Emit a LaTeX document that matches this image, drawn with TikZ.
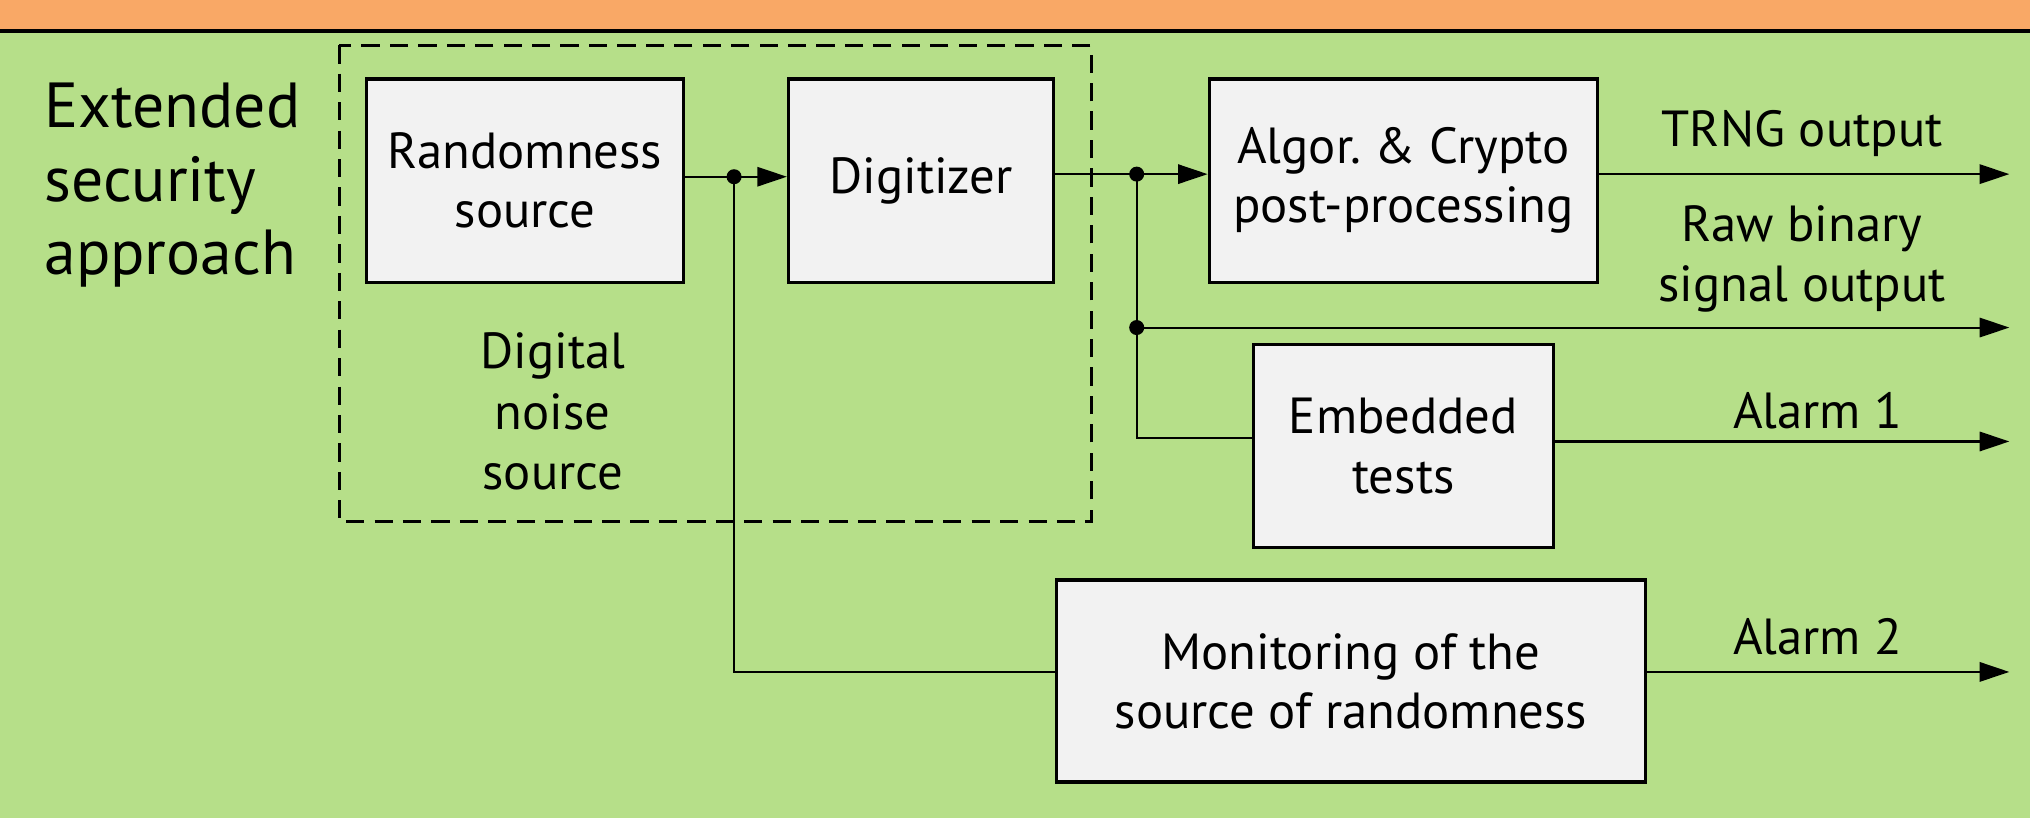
\documentclass[tikz,border=0pt]{standalone}
\usepackage{fontspec}
\setmainfont{PT Sans}
\usetikzlibrary{arrows.meta}
\definecolor{bg}{HTML}{B6DF89}
\definecolor{band}{HTML}{F9A866}
\definecolor{boxfill}{HTML}{F2F2F2}
\frenchspacing
\begin{document}
\begin{tikzpicture}[x=0.02cm,y=-0.02cm,
  blk/.style={draw,line width=1.4pt,fill=boxfill,align=center,inner sep=0pt,font=\fontsize{22.3}{26}\selectfont},
  lbl/.style={align=center,inner sep=0pt,font=\fontsize{22.3}{26}\selectfont},
  wire/.style={line width=0.9pt},
  arr/.style={wire,-{Triangle[length=13pt,width=8.5pt]}},
  dot/.style={circle,fill,inner sep=0pt,minimum size=6.6pt},
  frame/.style={line width=1.25pt,dash pattern=on 8pt off 4.5pt}]
\useasboundingbox (0,0) rectangle (1568,632);
\fill[bg] (0,0) rectangle (1568,632);
\fill[band] (0,0) rectangle (1568,23);
\draw[line width=1.7pt] (0,24) -- (1568,24);

% dashed digital noise source frame
\draw[frame] (262,35) rectangle (843,403);

% blocks
\node[blk,minimum width=4.9cm,minimum height=3.14cm] (rs) at (405.5,139.5) {Randomness\\source};
\node[blk,minimum width=4.1cm,minimum height=3.14cm] (dig) at (711.5,139.5) {Digitizer};
\node[blk,minimum width=6.0cm,minimum height=3.14cm] (alg) at (1084,139.5) {Algor. \& Crypto\\post-processing};
\node[blk,minimum width=4.64cm,minimum height=3.14cm] (emb) at (1084,344.5) {Embedded\\tests};
\node[blk,minimum width=9.1cm,minimum height=3.12cm] (mon) at (1043.5,526) {Monitoring of the\\source of randomness};

% texts
\node[lbl,align=left,anchor=west,font=\fontsize{28}{32.3}\selectfont] (title) at (34,143) {Extended\\security\\approach};
\node[lbl,font=\fontsize{22.3}{26.6}\selectfont] (dns) at (427,318) {Digital\\noise\\source};
\node[lbl] (trng) at (1392,103) {TRNG output};
\node[lbl] (raw) at (1392,200) {Raw binary\\signal output};
\node[lbl] (al1) at (1404,317) {Alarm 1};
\node[lbl] (al2) at (1404,492) {Alarm 2};

% junctions and free ends
\node[dot] (j1) at (567,136.5) {};
\node[dot] (j2) at (878,134.5) {};
\node[dot] (j3) at (878,253) {};
\coordinate (o1) at (1552,134.5);
\coordinate (o2) at (1552,253);
\coordinate (o3) at (1552,341);
\coordinate (o4) at (1552,519);

% connectors
\draw[arr] (rs.east |- j1) -- (dig.west |- j1);
\draw[arr] (dig.east |- j2) -- (alg.west |- j2);
\draw[arr] (alg.east |- o1) -- (o1);
\draw[arr] (j3.center) -- (o2);
\draw[arr] (emb.east |- o3) -- (o3);
\draw[arr] (mon.east |- o4) -- (o4);
\draw[wire] (j2.center) |- ([yshift=0.13cm]emb.west);
\draw[wire] (j1.center) |- (mon.west |- o4);
\end{tikzpicture}
\end{document}
